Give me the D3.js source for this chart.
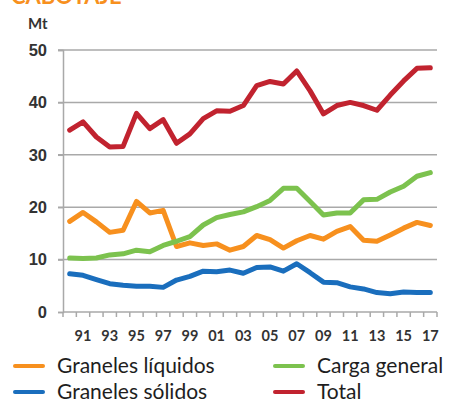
<!DOCTYPE html>
<html>
<head>
<meta charset="utf-8">
<script src="https://cdn.jsdelivr.net/npm/d3@7"></script>
<style>
  body { margin: 0; background: #fff; }
  svg { display: block; font-family: Lato, "Open Sans", sans-serif; }
</style>
</head>
<body>
<svg id="chart" width="452" height="405"></svg>
<script>
// años 1990-2017
const years = d3.range(1990, 2018);
const tickLabels = ["91","93","95","97","99","01","03","05","07","09","11","13","15","17"];

const granelesLiquidos = [17.3,19.0,17.2,15.2,15.6,21.1,18.9,19.4,12.5,13.2,12.7,13.0,11.8,12.5,14.6,13.8,12.2,13.6,14.6,13.9,15.4,16.3,13.7,13.5,14.7,16.0,17.1,16.5];
const granelesSolidos = [7.3,7.0,6.2,5.4,5.1,4.9,4.9,4.7,6.1,6.8,7.8,7.7,8.0,7.4,8.5,8.6,7.8,9.2,7.5,5.7,5.6,4.8,4.4,3.7,3.5,3.8,3.7,3.7];
const cargaGeneral = [10.3,10.2,10.3,10.9,11.1,11.8,11.5,12.7,13.5,14.4,16.6,18.0,18.6,19.1,20.1,21.3,23.6,23.6,21.1,18.5,18.9,18.9,21.4,21.5,22.9,24.0,25.9,26.6];
const total = [34.7,36.3,33.4,31.5,31.6,37.9,35.0,36.7,32.2,34.0,36.9,38.4,38.3,39.4,43.2,44.0,43.5,46.0,42.2,37.8,39.4,40.0,39.4,38.5,41.4,44.1,46.5,46.6];

const series = [
  { name: "Graneles líquidos", values: granelesLiquidos, color: "#f7901e" },
  { name: "Graneles sólidos", values: granelesSolidos, color: "#1a6ebd" },
  { name: "Carga general", values: cargaGeneral, color: "#7cc24e" },
  { name: "Total", values: total, color: "#c1232f" }
];

const margin = { top: 50, left: 63, right: 15, bottom: 93 };
const width = 452, height = 405;

const svg = d3.select("#chart");

const x = d3.scaleBand().domain(years).range([margin.left, width - margin.right]);
const y = d3.scaleLinear().domain([0, 50]).range([312, margin.top]);

// título (cortado por arriba, como en el original)
svg.append("text")
  .attr("x", 11).attr("y", 4)
  .attr("fill", "#f7901e")
  .attr("font-weight", "bold")
  .attr("font-size", 22)
  .text("CABOTAJE");

svg.append("text")
  .attr("x", 28).attr("y", 29)
  .attr("fill", "#333")
  .attr("font-weight", "bold")
  .attr("font-size", 15)
  .text("Mt");

// rejilla
svg.append("g")
  .selectAll("line")
  .data(y.ticks(5).filter(d => d > 0))
  .join("line")
  .attr("x1", margin.left - 5)
  .attr("x2", width - margin.right)
  .attr("y1", d => y(d))
  .attr("y2", d => y(d))
  .attr("stroke", "#a9a9a9")
  .attr("stroke-width", 1.5);

// eje y
const yAxis = svg.append("g")
  .attr("transform", `translate(${margin.left},0)`)
  .call(d3.axisLeft(y).ticks(5).tickSize(5).tickPadding(11));
yAxis.select(".domain").attr("stroke", "#a9a9a9").attr("stroke-width", 1.5);
yAxis.selectAll(".tick line").attr("stroke", "#a9a9a9").attr("stroke-width", 1.5);
yAxis.selectAll("text")
  .attr("fill", "#333")
  .attr("font-size", 16.5)
  .attr("font-weight", "bold");

// eje x: marcas en los límites de cada año
const xg = svg.append("g");
xg.append("line")
  .attr("x1", margin.left).attr("x2", width - margin.right)
  .attr("y1", y(0)).attr("y2", y(0))
  .attr("stroke", "#a9a9a9").attr("stroke-width", 1.5);
xg.selectAll(".tk")
  .data(years.concat([2018]))
  .join("line")
  .attr("class", "tk")
  .attr("x1", d => d === 2018 ? width - margin.right : x(d))
  .attr("x2", d => d === 2018 ? width - margin.right : x(d))
  .attr("y1", y(0)).attr("y2", y(0) + 5)
  .attr("stroke", "#a9a9a9").attr("stroke-width", 1.5);
xg.selectAll(".lbl")
  .data(years.filter(d => d % 2 === 1))
  .join("text")
  .attr("class", "lbl")
  .attr("x", d => x(d) + x.bandwidth() / 2)
  .attr("y", 341)
  .attr("text-anchor", "middle")
  .attr("fill", "#333")
  .attr("font-size", 14.5)
  .attr("font-weight", "bold")
  .text((d, i) => tickLabels[i]);

// líneas
const line = d3.line()
  .x((d, i) => x(years[i]) + x.bandwidth() / 2)
  .y(d => y(d));

svg.append("g")
  .selectAll("path")
  .data(series)
  .join("path")
  .attr("d", d => line(d.values))
  .attr("fill", "none")
  .attr("stroke", d => d.color)
  .attr("stroke-width", 5)
  .attr("stroke-linejoin", "round")
  .attr("stroke-linecap", "round");

// leyenda
const legendPos = [[15, 366], [15, 392], [275, 366], [275, 392]];
const lg = svg.append("g")
  .selectAll("g")
  .data(series)
  .join("g")
  .attr("transform", (d, i) => `translate(${legendPos[i][0]},${legendPos[i][1]})`);
lg.append("line")
  .attr("x1", 0).attr("x2", 28)
  .attr("stroke", d => d.color)
  .attr("stroke-width", 4)
  .attr("stroke-linecap", "round");
lg.append("text")
  .attr("x", 42)
  .attr("dy", "0.35em")
  .attr("fill", "#1e1e1e")
  .attr("font-size", 21)
  .text(d => d.name);
</script>
</body>
</html>
